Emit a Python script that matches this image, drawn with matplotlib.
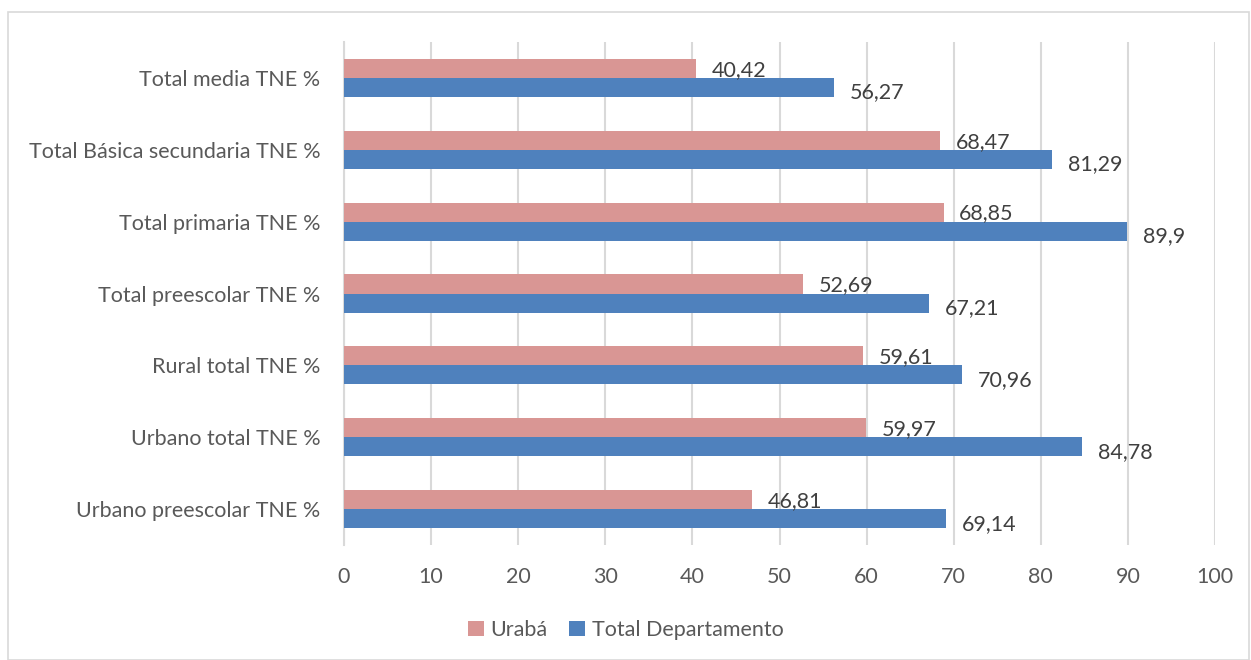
import matplotlib.pyplot as plt
import numpy as np
from matplotlib.patches import Rectangle

# data, bottom to top as drawn
categories = ["Urbano preescolar TNE %", "Urbano total TNE %", "Rural total TNE %",
              "Total preescolar TNE %", "Total primaria TNE %",
              "Total Básica secundaria TNE %", "Total media TNE %"]
uraba = [46.81, 59.97, 59.61, 52.69, 68.85, 68.47, 40.42]
total_dep = [69.14, 84.78, 70.96, 67.21, 89.9, 81.29, 56.27]
xticks = [0, 10, 20, 30, 40, 50, 60, 70, 80, 90, 100]

plt.rcParams['font.family'] = ['Lato', 'DejaVu Sans']
txt = '#595959'
grid_c = '#D9D9D9'
pink = '#D99694'
blue = '#4F81BD'
fs = 15.5

W, H = 1251, 660
fig = plt.figure(figsize=(W / 100, H / 100), dpi=100)
fig.patches.append(Rectangle((8 / W, 0), (W - 10) / W, (H - 12) / H, transform=fig.transFigure,
                             fill=False, edgecolor=grid_c, linewidth=1.2))

ax = fig.add_axes([344 / W, (H - 545) / H, 871 / W, 503 / H])
y = np.arange(len(categories))
bh = 0.265
ax.barh(y + bh / 2, uraba, height=bh, color=pink, label='Urabá', zorder=3)
ax.barh(y - bh / 2, total_dep, height=bh, color=blue, label='Total Departamento', zorder=3)

# value labels with decimal comma
for i in range(len(categories)):
    ax.text(uraba[i] + 1.8, y[i] + bh / 2 - 0.02, str(uraba[i]).replace('.', ','),
            va='center', ha='left', fontsize=fs, color='#404040')
    ax.text(total_dep[i] + 1.8, y[i] - bh / 2 - 0.07, str(total_dep[i]).replace('.', ','),
            va='center', ha='left', fontsize=fs, color='#404040')

ax.set_xlim(0, 100)
ax.set_ylim(-0.5, len(categories) - 0.5)
ax.set_xticks(xticks)
ax.set_yticks(y)
ax.set_yticklabels(categories)
ax.tick_params(axis='both', length=0, labelsize=fs, colors=txt)
ax.tick_params(axis='x', pad=16)
ax.tick_params(axis='y', pad=17)
ax.grid(axis='x', color=grid_c, linewidth=1.5, zorder=0)
for s in ['top', 'right', 'bottom']:
    ax.spines[s].set_visible(False)
ax.spines['left'].set_color(grid_c)
ax.spines['left'].set_linewidth(1.5)

fig.legend(loc='center', bbox_to_anchor=(0.5, (H - 630) / H), ncol=2, frameon=False,
           fontsize=fs, labelcolor=txt, handlelength=0.75, handleheight=0.75,
           handletextpad=0.3, columnspacing=1.0)

fig.savefig('out.png', dpi=100)
